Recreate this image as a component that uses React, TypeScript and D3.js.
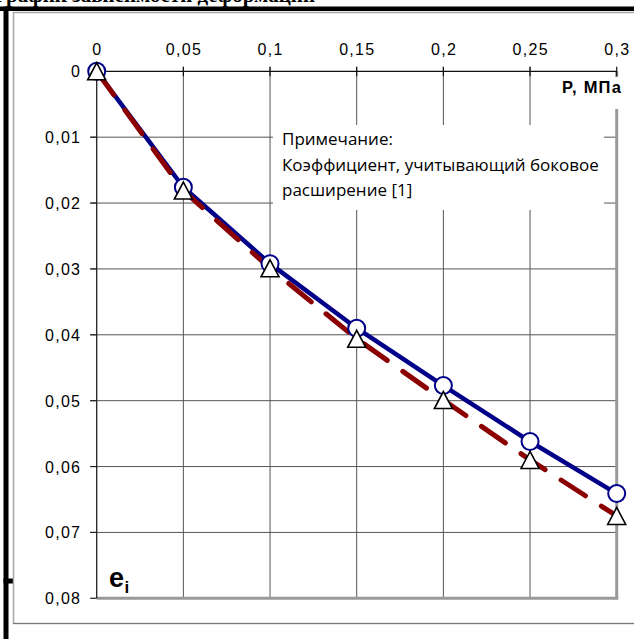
import React from 'react';
import * as d3 from 'd3';

// Pressure steps, MPa
const pressure = [0, 0.05, 0.1, 0.15, 0.2, 0.25, 0.3];
// Relative deformation e_i, solid series (circles)
const strainMeasured = [0, 0.0176, 0.0292, 0.039, 0.0477, 0.0562, 0.0641];
// Relative deformation with lateral expansion coefficient (triangles)
const strainLateral = [0, 0.0181, 0.0299, 0.0406, 0.0499, 0.059, 0.0675];

const xTicks = [0, 0.05, 0.1, 0.15, 0.2, 0.25, 0.3];
const yTicks = [0, 0.01, 0.02, 0.03, 0.04, 0.05, 0.06, 0.07, 0.08];

const titleText = 'График зависимости деформации';
const xAxisTitle = 'P, МПа';
const noteLines = ['Примечание:', 'Коэффициент, учитывающий боковое', 'расширение [1]'];

const W = 634;
const H = 639;
const plot = { left: 96.7, right: 616.7, top: 71.3, bottom: 598.3 };

const fmt = (v: number) => String(+v.toFixed(2)).replace('.', ',');

export default function App() {
  const x = d3.scaleLinear().domain([0, 0.3]).range([plot.left, plot.right]);
  const y = d3.scaleLinear().domain([0, 0.08]).range([plot.top, plot.bottom]);

  const pts = (vals: number[]) => pressure.map((p, i) => [x(p), y(vals[i])] as [number, number]);
  const line = d3.line<[number, number]>();
  const measuredPts = pts(strainMeasured);
  const lateralPts = pts(strainLateral);

  const tickFont = '"Liberation Sans", Arial, sans-serif';
  const ls = 1.3;

  return (
    <svg
      width={W}
      height={H}
      style={{ position: 'absolute', left: 0, top: 0, background: '#fff' }}
      xmlns="http://www.w3.org/2000/svg"
    >
      <rect x={0} y={0} width={W} height={H} fill="#fff" />

      {/* heading above the frame, clipped by the page top */}
      <text x={-6} y={2} fontFamily='"Liberation Serif", "Times New Roman", serif' fontWeight="bold" fontSize={21} fill="#000">
        {titleText}
      </text>

      {/* outer black frame */}
      <rect x={0} y={6.5} width={W} height={4.5} fill="#000" />
      <rect x={3.5} y={6.5} width={5} height={H} fill="#000" />
      <rect x={3.5} y={578.5} width={9.5} height={5} fill="#000" />

      {/* chart area border */}
      <rect x={13.5} y={12.5} width={W + 10} height={611} fill="#fff" stroke="#a8a8a8" strokeWidth={1.5} />
      <line x1={13} x2={W} y1={623.5} y2={623.5} stroke="#777" strokeWidth={1.2} />

      {/* gridlines */}
      {xTicks.slice(1, -1).map((t) => (
        <line key={'gx' + t} x1={x(t)} x2={x(t)} y1={plot.top - 4.5} y2={plot.bottom} stroke="#555" strokeWidth={1} />
      ))}
      {yTicks.slice(1, -1).map((t) => (
        <line key={'gy' + t} x1={plot.left - 6.5} x2={plot.right} y1={y(t)} y2={y(t)} stroke="#555" strokeWidth={1} />
      ))}

      {/* note box */}
      <rect x={273} y={125} width={331} height={85} fill="#fff" />
      {noteLines.map((s, i) => (
        <text
          key={'n' + i}
          x={282}
          y={145 + i * 25.5}
          fontFamily='"Open Sans", "Noto Sans", sans-serif'
          fontSize={17}
          fill="#000"
        >
          {s}
        </text>
      ))}

      {/* plot border: right and bottom */}
      <line x1={plot.right} x2={plot.right} y1={plot.top} y2={plot.bottom + 1} stroke="#999" strokeWidth={3} />
      <line x1={plot.left} x2={plot.right + 1.5} y1={plot.bottom} y2={plot.bottom} stroke="#999" strokeWidth={3} />

      {/* axes */}
      <line x1={plot.left} x2={plot.right} y1={plot.top} y2={plot.top} stroke="#111" strokeWidth={1.3} />
      <line x1={plot.left} x2={plot.left} y1={plot.top} y2={plot.bottom} stroke="#222" strokeWidth={1.3} />
      {xTicks.map((t) => (
        <line key={'tx' + t} x1={x(t)} x2={x(t)} y1={plot.top - 4.5} y2={plot.top + 5} stroke="#111" strokeWidth={1.2} />
      ))}
      {yTicks.map((t) => (
        <line key={'ty' + t} x1={plot.left - 6.5} x2={plot.left} y1={y(t)} y2={y(t)} stroke="#222" strokeWidth={1.2} />
      ))}

      {/* tick labels */}
      {xTicks.map((t) => (
        <text
          key={'lx' + t}
          x={x(t) + ls / 2}
          y={55}
          textAnchor="middle"
          fontFamily={tickFont}
          fontSize={16}
          letterSpacing={ls}
          fill="#000"
        >
          {fmt(t)}
        </text>
      ))}
      {yTicks.map((t) => (
        <text
          key={'ly' + t}
          x={80 + ls}
          y={y(t) + 6}
          textAnchor="end"
          fontFamily={tickFont}
          fontSize={16}
          letterSpacing={ls}
          fill="#000"
        >
          {fmt(t)}
        </text>
      ))}

      {/* x axis title */}
      <rect x={558} y={77} width={80} height={32} fill="#fff" />
      <text x={562} y={93} fontFamily={tickFont} fontWeight="bold" fontSize={16.5} letterSpacing={1.2} fill="#000">
        {xAxisTitle}
      </text>

      {/* y axis title */}
      <text x={109} y={587} fontFamily={tickFont} fontWeight="bold" fontSize={27} fill="#000">
        e
      </text>
      <text x={124.5} y={593} fontFamily={tickFont} fontWeight="bold" fontSize={17} fill="#000">
        i
      </text>

      {/* series lines */}
      <path d={line(measuredPts) ?? ''} fill="none" stroke="#000088" strokeWidth={4.5} strokeLinejoin="round" />
      <path
        d={line(lateralPts) ?? ''}
        fill="none"
        stroke="#8b0000"
        strokeWidth={5}
        strokeDasharray="29 19"
        strokeLinecap="round"
      />

      {/* markers */}
      {measuredPts.map(([cx, cy], i) => (
        <circle key={'c' + i} cx={cx} cy={cy} r={8.5} fill="#fff" stroke="#000088" strokeWidth={2} />
      ))}
      {lateralPts.map(([cx, cy], i) => (
        <path
          key={'t' + i}
          d={`M${cx},${cy - 8.5}L${cx + 9},${cy + 8.5}L${cx - 9},${cy + 8.5}Z`}
          fill="#fff"
          stroke="#000"
          strokeWidth={1.6}
          strokeLinejoin="miter"
        />
      ))}
    </svg>
  );
}
